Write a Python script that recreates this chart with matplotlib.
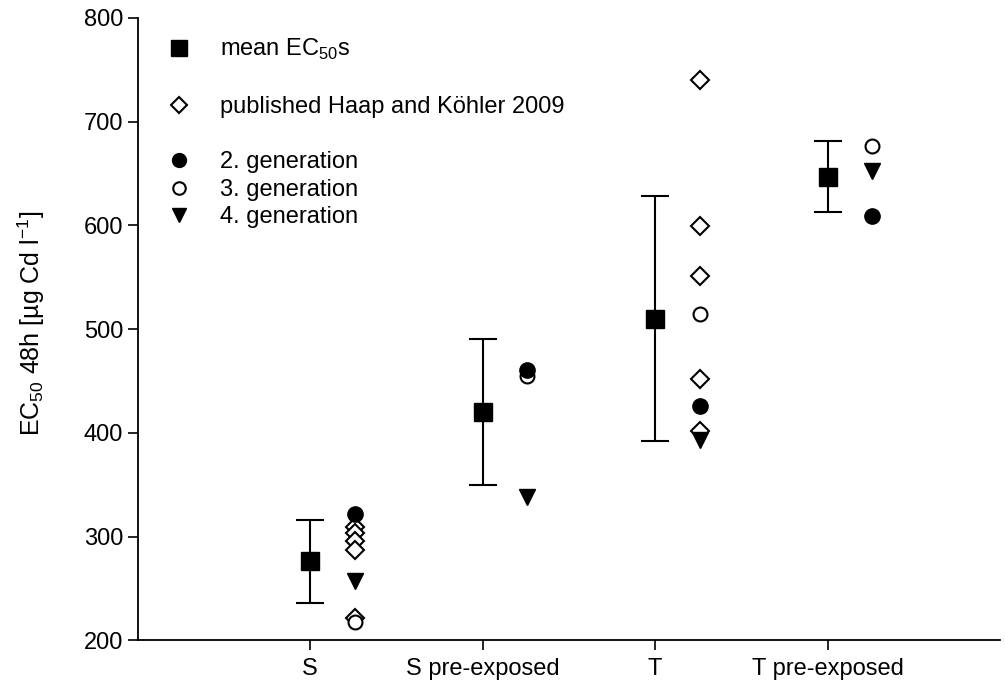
import matplotlib
matplotlib.use('Agg')
import matplotlib.pyplot as plt
from matplotlib.lines import Line2D
import numpy as np

plt.rcParams['font.family'] = ['Liberation Sans', 'DejaVu Sans']
plt.rcParams['mathtext.fontset'] = 'custom'
plt.rcParams['mathtext.rm'] = 'Liberation Sans'

# data
groups = ['S', 'S pre-exposed', 'T', 'T pre-exposed']
mean_ec50 = [276, 420, 510, 647]
mean_err = [40, 70, 118, 34]
# published Haap and Köhler 2009 (S and T only)
pub_S = [309, 303, 296, 287, 221]
pub_T = [740, 599, 551, 452, 402]
gen2 = [322, 461, 426, 609]
gen3 = [218, 455, 515, 676]
gen4 = [257, 338, 393, 652]

x = np.arange(1, len(groups) + 1)
off = 0.26
fs = 17

fig = plt.figure(figsize=(10.05, 6.87), dpi=100)
ax = fig.add_axes([0.137, 0.068, 0.858, 0.906])

ax.errorbar(x, mean_ec50, yerr=mean_err, fmt='s', color='black', ms=13,
            capsize=10, elinewidth=1.5, capthick=1.5, zorder=3)
ax.plot(np.full(len(pub_S), x[0] + off), pub_S, 'D', mfc='white', mec='black',
        ms=9, mew=1.5, zorder=3)
ax.plot(np.full(len(pub_T), x[2] + off), pub_T, 'D', mfc='white', mec='black',
        ms=9, mew=1.5, zorder=3)
ax.plot(x + off, gen3, 'o', mfc='white', mec='black', ms=10, mew=1.5, zorder=4)
ax.plot(x + off, gen4, 'v', color='black', ms=11, zorder=4)
ax.plot(x + off, gen2, 'o', color='black', ms=11, zorder=5)

ax.set_xlim(0, 5)
ax.set_ylim(200, 800)
ax.set_xticks(x)
ax.set_xticklabels(groups, fontsize=fs)
ax.set_yticks(np.arange(200, 801, 100))
ax.tick_params(axis='y', labelsize=fs, length=7, width=1.2)
ax.tick_params(axis='x', length=7, width=1.2, pad=6)
ax.spines['top'].set_visible(False)
ax.spines['right'].set_visible(False)
ax.spines['left'].set_linewidth(1.3)
ax.spines['bottom'].set_linewidth(1.3)
ax.set_ylabel(r'EC$_{50}$ 48h [µg Cd l$^{-1}$]', fontsize=fs + 1)
ax.yaxis.set_label_coords(-0.105, 0.51)

blank = Line2D([], [], linestyle='none')
handles = [
    Line2D([], [], linestyle='none', marker='s', color='black', ms=12),
    blank,
    Line2D([], [], linestyle='none', marker='D', mfc='white', mec='black', ms=8, mew=1.5),
    blank,
    Line2D([], [], linestyle='none', marker='o', color='black', ms=10),
    Line2D([], [], linestyle='none', marker='o', mfc='white', mec='black', ms=9, mew=1.5),
    Line2D([], [], linestyle='none', marker='v', color='black', ms=10),
]
labels = [r'mean EC$_{50}$s', ' ', 'published Haap and Köhler 2009', ' ',
          '2. generation', '3. generation', '4. generation']
ax.legend(handles, labels, loc='upper left', frameon=False, fontsize=fs,
          handlelength=1.0, handletextpad=1.25, labelspacing=0.24,
          bbox_to_anchor=(0.009, 1.003))

fig.savefig('out.png', dpi=100)
